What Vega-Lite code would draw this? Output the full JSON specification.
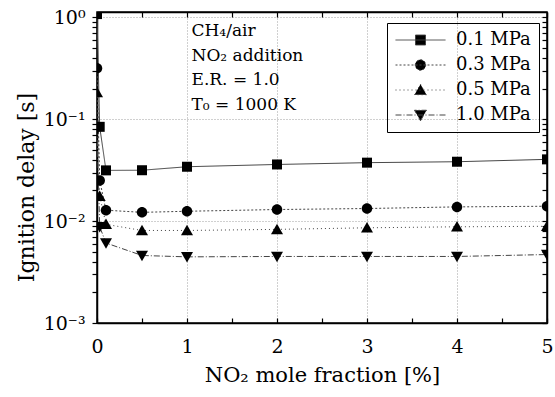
{
  "$schema": "https://vega.github.io/schema/vega-lite/v6.json",
  "width": 450,
  "height": 311,
  "autosize": {"type": "none"},
  "padding": {"left": 97, "top": 12, "right": 8, "bottom": 74},
  "config": {
    "font": "DejaVu Serif",
    "view": {"stroke": "black", "strokeWidth": 1.5},
    "axis": {"domainColor": "black", "domainWidth": 1.5, "tickColor": "black", "tickWidth": 1.2, "labelColor": "black", "titleColor": "black", "labelFont": "DejaVu Serif", "titleFont": "DejaVu Serif", "titleFontWeight": "normal"}
  },
  "data": {
    "values": [
      {"x": 0, "t": 1.078, "p": "0.1 MPa"},
      {"x": 0.03, "t": 0.0843, "p": "0.1 MPa"},
      {"x": 0.1, "t": 0.0315, "p": "0.1 MPa"},
      {"x": 0.5, "t": 0.0316, "p": "0.1 MPa"},
      {"x": 1, "t": 0.0342, "p": "0.1 MPa"},
      {"x": 2, "t": 0.036, "p": "0.1 MPa"},
      {"x": 3, "t": 0.0375, "p": "0.1 MPa"},
      {"x": 4, "t": 0.0383, "p": "0.1 MPa"},
      {"x": 5, "t": 0.0404, "p": "0.1 MPa"},
      {"x": 0, "t": 0.317, "p": "0.3 MPa"},
      {"x": 0.03, "t": 0.0251, "p": "0.3 MPa"},
      {"x": 0.1, "t": 0.0128, "p": "0.3 MPa"},
      {"x": 0.5, "t": 0.0122, "p": "0.3 MPa"},
      {"x": 1, "t": 0.0125, "p": "0.3 MPa"},
      {"x": 2, "t": 0.013, "p": "0.3 MPa"},
      {"x": 3, "t": 0.0133, "p": "0.3 MPa"},
      {"x": 4, "t": 0.0138, "p": "0.3 MPa"},
      {"x": 5, "t": 0.014, "p": "0.3 MPa"},
      {"x": 0, "t": 0.183, "p": "0.5 MPa"},
      {"x": 0.03, "t": 0.0176, "p": "0.5 MPa"},
      {"x": 0.1, "t": 0.0093, "p": "0.5 MPa"},
      {"x": 0.5, "t": 0.0081, "p": "0.5 MPa"},
      {"x": 1, "t": 0.0081, "p": "0.5 MPa"},
      {"x": 2, "t": 0.0083, "p": "0.5 MPa"},
      {"x": 3, "t": 0.0086, "p": "0.5 MPa"},
      {"x": 4, "t": 0.0088, "p": "0.5 MPa"},
      {"x": 5, "t": 0.0089, "p": "0.5 MPa"},
      {"x": 0, "t": 0.08, "p": "1.0 MPa"},
      {"x": 0.03, "t": 0.0088, "p": "1.0 MPa"},
      {"x": 0.1, "t": 0.0061, "p": "1.0 MPa"},
      {"x": 0.5, "t": 0.0046, "p": "1.0 MPa"},
      {"x": 1, "t": 0.00446, "p": "1.0 MPa"},
      {"x": 2, "t": 0.0045, "p": "1.0 MPa"},
      {"x": 3, "t": 0.0045, "p": "1.0 MPa"},
      {"x": 4, "t": 0.0045, "p": "1.0 MPa"},
      {"x": 5, "t": 0.0047, "p": "1.0 MPa"}
    ]
  },
  "resolve": {"axis": {"x": "independent", "y": "independent"}},
  "layer": [
    {
      "mark": {"type": "line", "clip": true, "color": "#444", "strokeWidth": 1},
      "encoding": {
        "x": {
          "field": "x", "type": "quantitative",
          "scale": {"domain": [0, 5], "nice": false, "zero": false},
          "axis": {
            "orient": "bottom",
            "values": [0, 0.5, 1, 1.5, 2, 2.5, 3, 3.5, 4, 4.5, 5],
            "labelExpr": "datum.value % 1 === 0 ? format(datum.value, 'd') : ''",
            "tickSize": -5,
            "labelPadding": 19,
            "labelFontSize": 19,
            "labelFlush": false,
            "labelOverlap": false,
            "grid": true,
            "gridColor": "#888",
            "gridDash": [1, 2],
            "gridWidth": 0.8,
            "gridOpacity": {"condition": {"test": "datum.value % 1 === 0", "value": 1}, "value": 0},
            "title": "NO₂ mole fraction [%]",
            "titleFontSize": 21,
            "titlePadding": 8
          }
        },
        "y": {
          "field": "t", "type": "quantitative",
          "scale": {"type": "log", "domain": [0.001, 1.13], "nice": false},
          "axis": {
            "orient": "left",
            "values": [0.001, 0.002, 0.003, 0.004, 0.005, 0.006, 0.007, 0.008, 0.009, 0.01, 0.02, 0.03, 0.04, 0.05, 0.06, 0.07, 0.08, 0.09, 0.1, 0.2, 0.3, 0.4, 0.5, 0.6, 0.7, 0.8, 0.9, 1],
            "labelExpr": "datum.value == 1 ? '10⁰' : datum.value == 0.1 ? '10⁻¹' : datum.value == 0.01 ? '10⁻²' : datum.value == 0.001 ? '10⁻³' : ''",
            "tickSize": 5,
            "labelPadding": 7,
            "labelFontSize": 19,
            "labelOverlap": false,
            "labelFlush": false,
            "grid": true,
            "gridColor": "#888",
            "gridDash": [1, 2],
            "gridWidth": 0.8,
            "gridOpacity": {"condition": {"test": "datum.value == 1 || datum.value == 0.1 || datum.value == 0.01", "value": 1}, "value": 0},
            "title": "Ignition delay [s]",
            "titleFontSize": 22,
            "titleAngle": 270,
            "titleBaseline": "alphabetic",
            "titleAlign": "center",
            "titleX": -64,
            "titleY": 175
          }
        },
        "strokeDash": {
          "field": "p", "type": "nominal",
          "scale": {"domain": ["0.1 MPa", "0.3 MPa", "0.5 MPa", "1.0 MPa"], "range": [[1, 0], [2, 2], [1, 3], [6, 2, 1, 2]]},
          "legend": {
            "orient": "none",
            "legendX": 290,
            "legendY": 11,
            "title": null,
            "strokeColor": "black",
            "padding": 8,
            "symbolType": {"expr": "datum.value === '0.1 MPa' ? 'M-1,0H1M-0.2,-0.2H0.2V0.2H-0.2Z' : datum.value === '0.3 MPa' ? 'M-1,0H1M-0.21,0A0.21,0.21,0,1,1,0.21,0A0.21,0.21,0,1,1,-0.21,0Z' : datum.value === '0.5 MPa' ? 'M-1,0H1M0,-0.23L0.24,0.19H-0.24Z' : 'M-1,0H1M0,0.23L0.24,-0.19H-0.24Z'"},
            "symbolSize": 2500,
            "symbolFillColor": "black",
            "symbolStrokeColor": "#444",
            "symbolStrokeWidth": 1,
            "clipHeight": 18,
            "rowPadding": 7,
            "symbolOffset": 0,
            "labelOffset": 10,
            "labelFontSize": 18,
            "labelFont": "DejaVu Serif",
            "labelColor": "black"
          }
        }
      }
    },
    {
      "mark": {"type": "point", "clip": true, "filled": true, "color": "black", "opacity": 1, "size": 100},
      "encoding": {
        "x": {
          "field": "x", "type": "quantitative",
          "axis": {"orient": "top", "values": [0, 0.5, 1, 1.5, 2, 2.5, 3, 3.5, 4, 4.5, 5], "labels": false, "tickSize": -5, "grid": false, "title": null}
        },
        "y": {
          "field": "t", "type": "quantitative",
          "axis": {"orient": "right", "values": [0.001, 0.002, 0.003, 0.004, 0.005, 0.006, 0.007, 0.008, 0.009, 0.01, 0.02, 0.03, 0.04, 0.05, 0.06, 0.07, 0.08, 0.09, 0.1, 0.2, 0.3, 0.4, 0.5, 0.6, 0.7, 0.8, 0.9, 1], "labels": false, "tickSize": -5, "grid": false, "title": null}
        },
        "shape": {
          "field": "p", "type": "nominal",
          "scale": {
            "domain": ["1.0 MPa", "0.5 MPa", "0.3 MPa", "0.1 MPa"],
            "range": ["M0,1.15L1.2,-0.95H-1.2Z", "M0,-1.15L1.2,0.95H-1.2Z", "M-1.05,0A1.05,1.05,0,1,1,1.05,0A1.05,1.05,0,1,1,-1.05,0Z", "M-1,-1H1V1H-1Z"]
          },
          "legend": null
        }
      }
    },
    {
      "data": {"values": [{"label": "conditions"}]},
      "mark": {"type": "text", "text": ["CH₄/air", "NO₂ addition", "E.R. = 1.0", "T₀ = 1000 K"], "align": "left", "baseline": "alphabetic", "fontSize": 17, "lineHeight": 24.5, "color": "black", "font": "DejaVu Serif"},
      "encoding": {
        "x": {"datum": 1.05, "type": "quantitative", "axis": null},
        "y": {"datum": 0.655, "type": "quantitative", "axis": null}
      }
    }
  ]
}
